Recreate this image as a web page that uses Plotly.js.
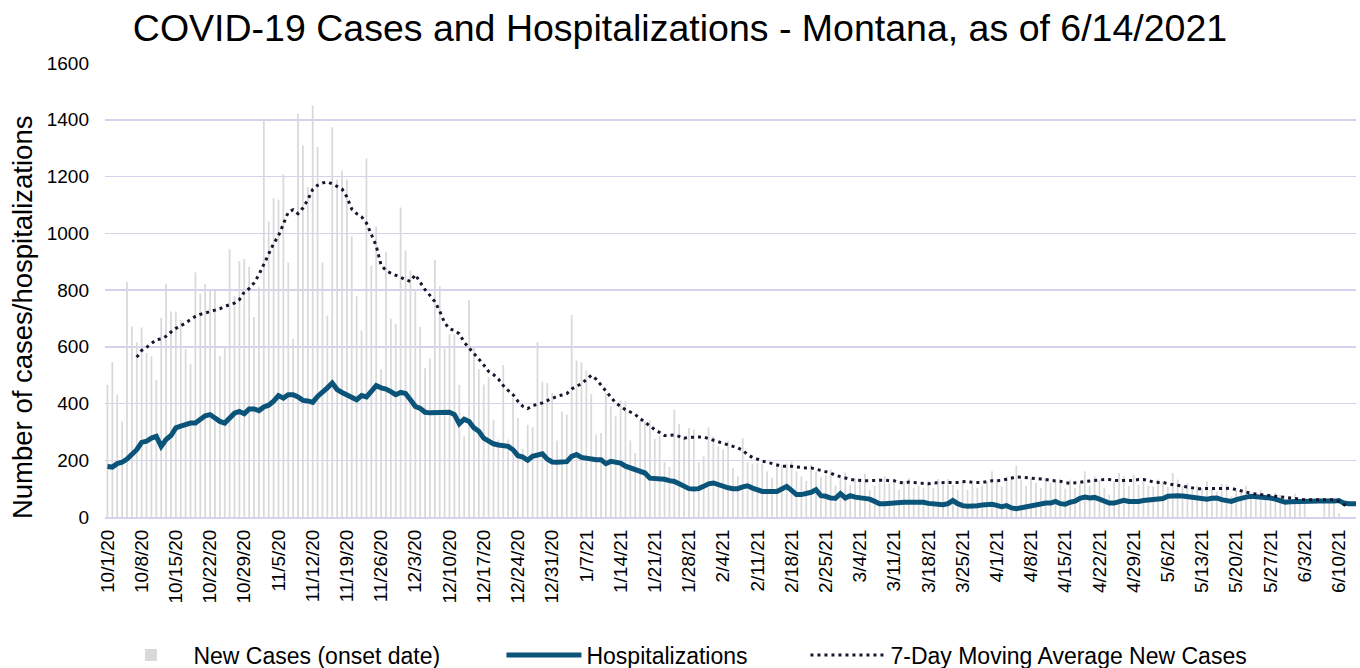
<!DOCTYPE html>
<html>
<head>
<meta charset="utf-8">
<script src="https://cdn.plot.ly/plotly-3.0.1.min.js"></script>
<style>
html,body{margin:0;padding:0;background:#fff;}
#chart{width:1360px;height:668px;}
</style>
</head>
<body>
<div id="chart"></div>
<script>
// First date of the daily series and number of days (10/1/2020 .. 6/13/2021)
var startDate = '2020-10-01';
var dayCount = 257;

// Daily new cases (onset date)
var newCases = [
466,546,431,337,828,671,615,668,578,566,482,702,822,724,724,695,592,540,862,787,
821,801,801,568,598,944,778,902,909,881,705,810,1403,1041,1123,1118,1208,897,627,1421,
1309,1163,1450,1304,897,710,1374,1189,1220,1189,989,778,658,1263,886,1024,521,934,699,681,
1091,939,868,795,670,524,559,907,813,594,643,643,466,284,764,596,521,467,493,343,
273,536,273,419,349,240,325,317,617,477,472,437,270,372,361,712,551,545,516,433,
290,296,437,390,355,411,408,270,226,341,337,341,275,287,193,176,378,328,284,314,
308,193,214,316,284,249,237,270,173,143,278,193,188,190,188,161,138,184,184,188,
196,161,143,127,184,160,140,149,167,110,137,157,114,137,126,152,96,110,137,143,
120,126,96,126,137,102,110,102,128,102,134,114,134,114,96,126,96,120,102,110,
126,161,132,108,143,137,181,132,110,137,120,102,137,120,132,126,100,132,102,117,
161,110,143,132,102,79,126,155,143,110,149,114,132,110,108,132,126,106,155,132,
110,120,96,110,102,126,96,90,117,114,73,96,85,110,73,85,96,75,61,85,
79,61,67,82,61,67,0,0,0,61,67,55,14,0,0,0,0
];

// Hospitalizations
var hospitalizations = [
178,176,188,193,204,220,237,263,267,278,284,249,273,287,314,320,325,331,331,343,
357,361,349,337,331,349,366,372,364,381,381,375,388,394,408,428,419,431,431,423,
411,409,404,425,443,455,472,449,439,431,419,413,428,423,443,463,455,451,442,431,
439,435,413,390,383,369,367,368,369,367,369,361,329,345,337,314,302,278,267,258,
254,251,249,237,216,211,200,214,217,223,204,194,193,193,195,214,220,210,206,203,
202,202,188,196,193,190,179,172,167,161,155,137,135,137,133,128,125,117,108,100,
99,100,108,117,120,114,105,103,100,100,106,110,102,94,90,90,92,90,99,108,
94,79,79,81,87,96,75,73,67,66,82,67,75,70,67,63,63,55,47,47,
49,47,49,52,52,53,54,52,48,46,45,43,47,58,47,40,38,41,40,42,
45,45,41,36,40,32,29,33,35,40,45,47,49,49,55,47,45,52,56,66,
70,67,69,63,54,49,49,54,59,55,53,55,58,60,63,63,65,73,75,75,
74,72,69,67,65,63,66,67,61,56,55,61,67,70,73,72,70,68,67,63,
56,52,54,55,55,54,55,56,56,56,55,56,58,49,47,47,47
];

// 7-day moving average of new cases (null where not drawn)
var movingAvg = [
null,null,null,null,null,null,563,587,598,613,625,628,637,652,665,673,684,693,707,714,
719,722,727,734,742,748,754,766,793,805,825,854,889,924,963,991,1030,1074,1083,1069,
1089,1118,1154,1169,1177,1181,1174,1165,1156,1128,1085,1069,1058,1036,998,956,887,869,859,853,
845,836,830,854,825,801,781,759,726,684,664,657,646,616,596,576,559,536,513,502,
486,463,446,431,408,390,382,392,397,402,410,418,425,430,435,451,460,470,484,499,
486,464,443,423,402,390,378,370,361,347,333,320,308,298,287,288,289,284,278,281,
282,282,282,276,271,265,261,255,249,243,235,220,210,204,197,193,188,183,179,179,
179,176,174,173,173,169,164,159,155,147,142,139,133,130,128,128,128,129,129,130,
128,128,122,120,123,122,120,119,117,120,121,121,122,122,122,123,126,122,121,122,
125,128,128,129,133,137,141,140,139,137,136,134,132,129,127,126,121,119,120,122,
125,127,128,129,132,132,129,129,129,128,129,132,132,129,123,122,122,117,114,110,
107,105,102,100,100,100,99,99,99,100,101,96,93,88,83,81,79,75,73,72,
69,67,66,65,63,61,61,61,61,62,63,61,55,43,34,null,null
];

var seriesNames = ['New Cases (onset date)', 'Hospitalizations', '7-Day Moving Average New Cases'];
var chartTitle = 'COVID-19 Cases and Hospitalizations - Montana, as of 6/14/2021';
var yTitle = 'Number of cases/hospitalizations';

// Build the daily date categories
var dates = [];
var t0 = Date.UTC(2020, 9, 1);
for (var i = 0; i < dayCount; i++) {
  var d = new Date(t0 + i * 86400000);
  var mm = String(d.getUTCMonth() + 1).padStart(2, '0');
  var dd = String(d.getUTCDate()).padStart(2, '0');
  dates.push(d.getUTCFullYear() + '-' + mm + '-' + dd);
}

var FONT = 'Liberation Sans, Arial, sans-serif';
var GRID = '#d5d2f0';

var traces = [
  {
    type: 'bar', name: seriesNames[0], x: dates, y: newCases,
    marker: {color: '#d9d9d9'}, hoverinfo: 'x+y', legendwidth: 303
  },
  {
    type: 'scatter', mode: 'lines', name: seriesNames[1], x: dates, y: hospitalizations,
    line: {color: '#0b5479', width: 5}, legendwidth: 214
  },
  {
    type: 'scatter', mode: 'lines', name: seriesNames[2], x: dates, y: movingAvg,
    line: {color: '#16162e', width: 3, dash: '3px,4px'}
  }
];

var layout = {
  width: 1360, height: 668,
  margin: {l: 105, r: 4, t: 63, b: 151, autoexpand: false},
  paper_bgcolor: '#fff', plot_bgcolor: '#fff',
  font: {family: FONT, color: '#000'},
  title: {
    text: chartTitle, font: {family: FONT, size: 37.5, color: '#000'},
    x: 0.5, xref: 'container', xanchor: 'center',
    y: 0.958, yref: 'container', yanchor: 'middle'
  },
  bargap: 0.64,
  showlegend: true,
  legend: {
    orientation: 'h', x: 0.46, xanchor: 'center', y: -0.304, yanchor: 'middle',
    font: {family: FONT, size: 23, color: '#000'}, traceorder: 'normal',
    itemwidth: 75
  },
  xaxis: {
    type: 'date',
    range: ['2020-09-30 12:00', '2021-06-13 12:00'],
    tick0: startDate, dtick: 7 * 86400000,
    tickformat: '%-m/%-d/%y', tickangle: -90,
    tickfont: {family: FONT, size: 19, color: '#000'},
    ticklabelstandoff: 3,
    showgrid: false, zeroline: false,
    showline: true, linecolor: GRID, linewidth: 2,
    ticks: '', automargin: false
  },
  yaxis: {
    range: [0, 1600], dtick: 200,
    showgrid: true, gridcolor: GRID, gridwidth: 1.5,
    zeroline: false, showline: false, ticks: '',
    tickfont: {family: FONT, size: 19, color: '#000'},
    ticklabelstandoff: 15,
    automargin: false
  },
  annotations: [{
    text: yTitle, textangle: -90, showarrow: false,
    xref: 'paper', yref: 'paper', x: -0.0663, y: 0.4405,
    xanchor: 'center', yanchor: 'middle',
    font: {family: FONT, size: 27.5, color: '#000'}
  }]
};

Plotly.newPlot('chart', traces, layout, {displayModeBar: false, staticPlot: true});
</script>
</body>
</html>
